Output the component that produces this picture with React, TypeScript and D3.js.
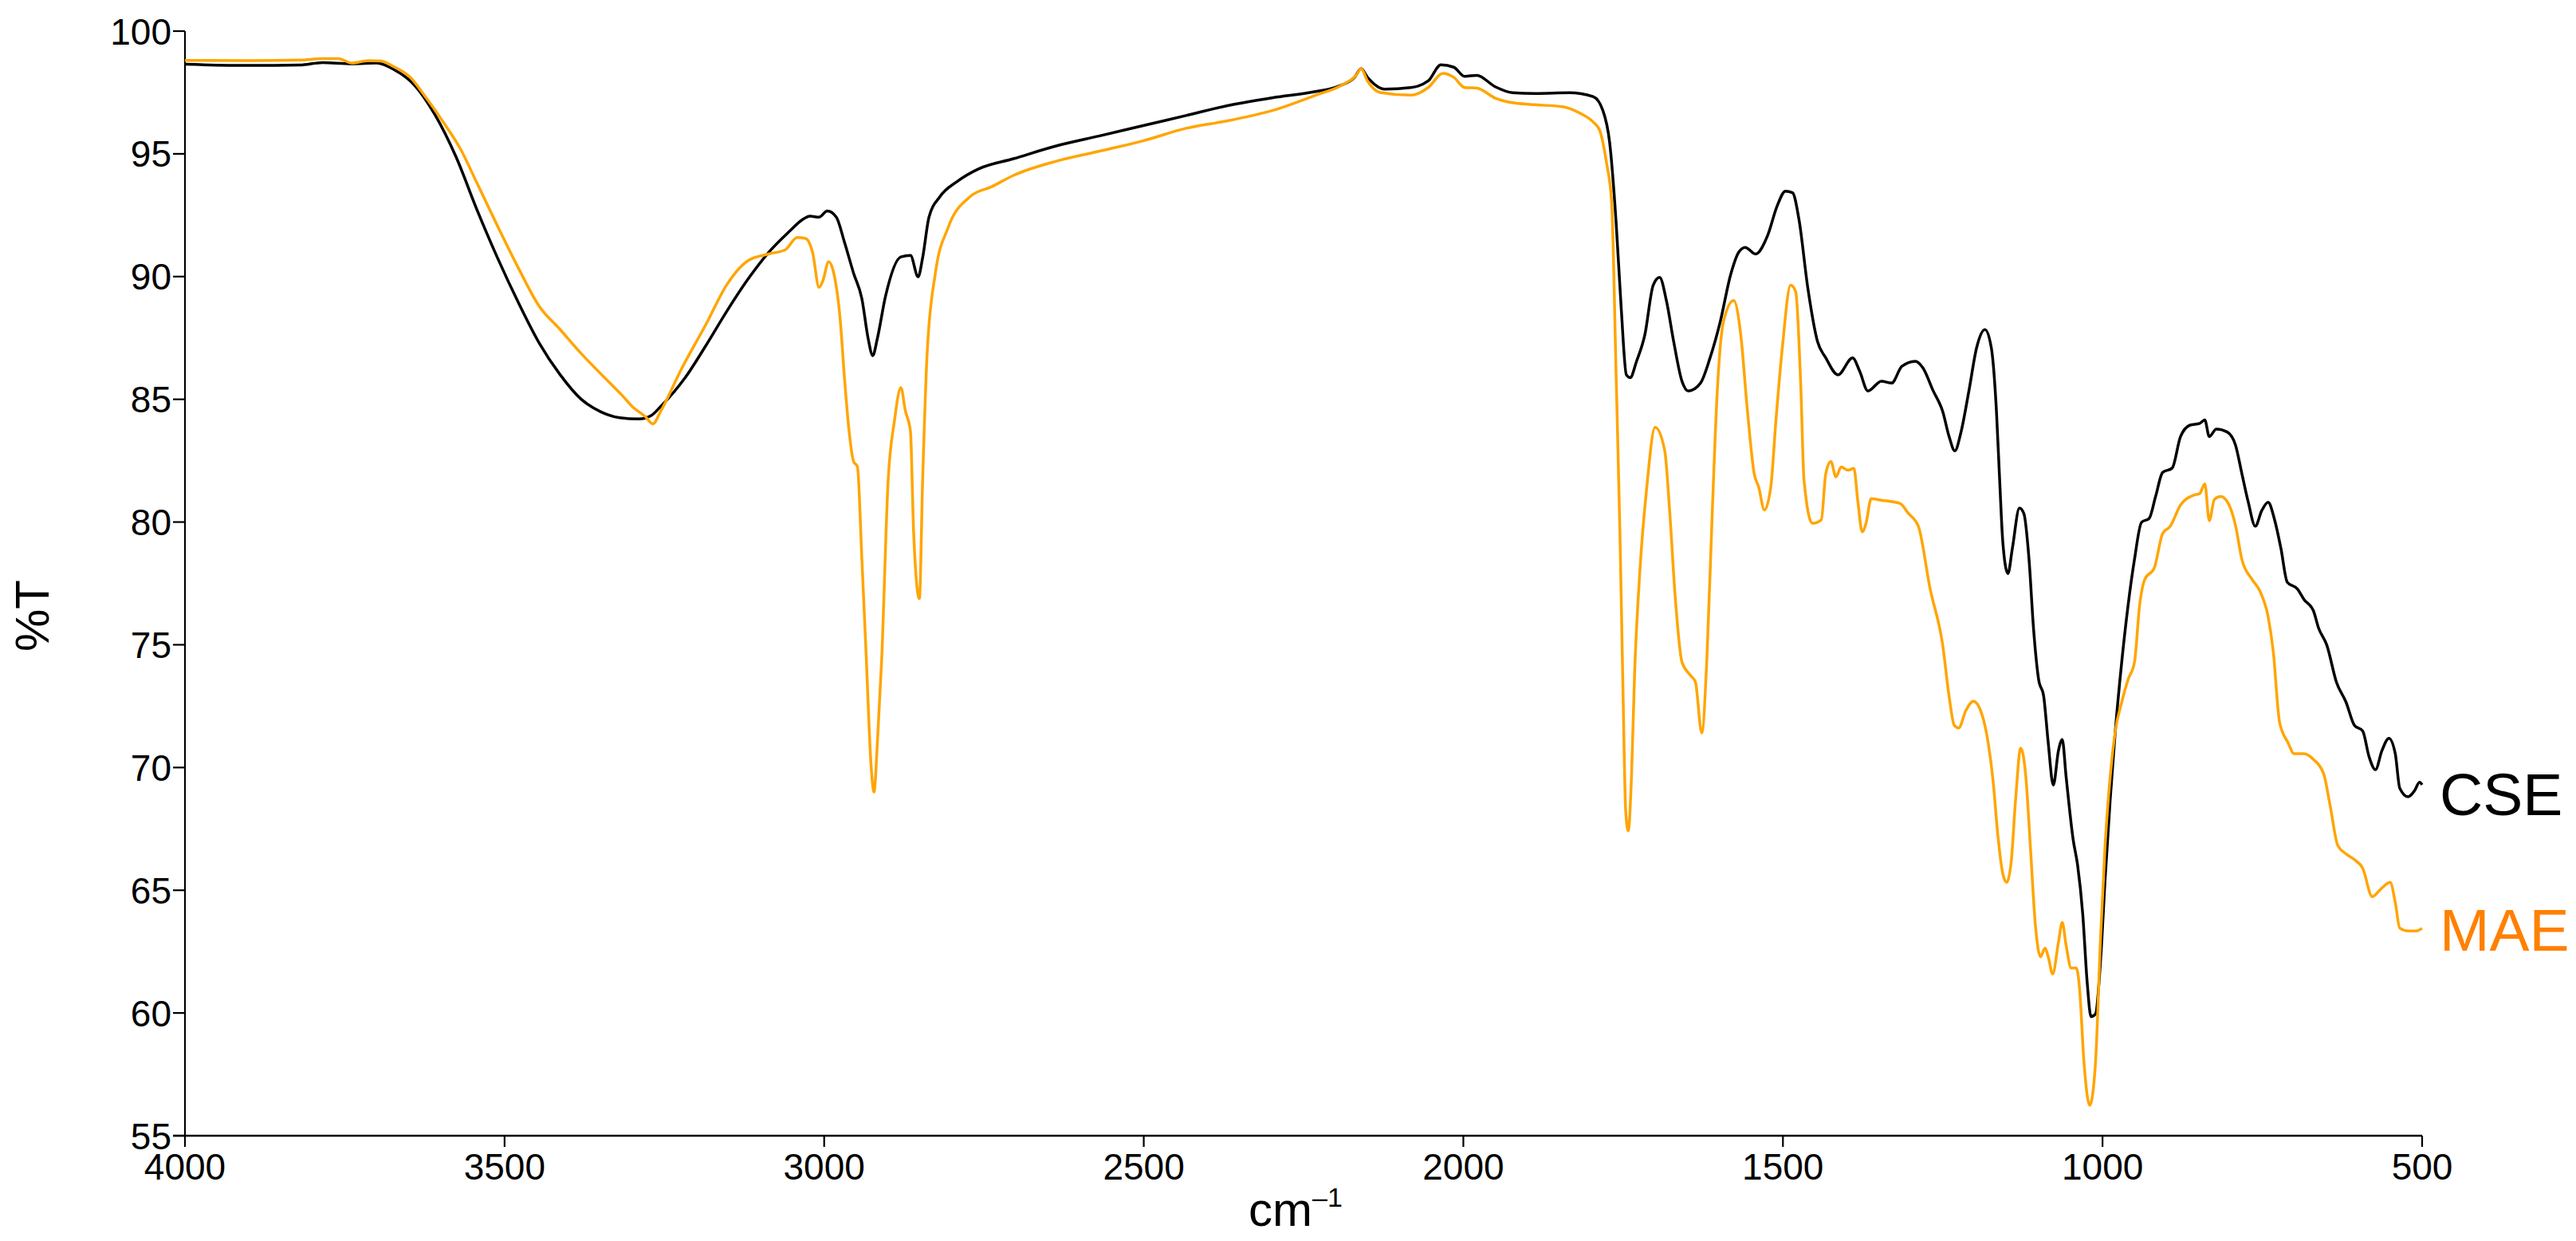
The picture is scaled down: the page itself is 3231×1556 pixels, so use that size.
import React from "react";
import * as d3 from "d3";

const xTicks = [4000, 3500, 3000, 2500, 2000, 1500, 1000, 500];
const yTicks = [55, 60, 65, 70, 75, 80, 85, 90, 95, 100];

const cseWn = [4000,3900,3820,3785,3739,3700,3674,3641,3609,3576,3543,3511,3478,3446,3413,3380,3350,3320,3290,3270,3256,3217,3185,3152,3119,3087,3054,3035,3022,3008,2995,2981,2968,2954,2941,2931,2924,2917,2904,2880,2865,2853,2846,2836,2819,2792,2758,2704,2637,2569,2501,2434,2366,2298,2231,2197,2170,2160,2150,2123,2082,2055,2035,2015,1998,1979,1950,1923,1887,1834,1797,1782,1771,1761,1753,1745,1739,1729,1716,1703,1693,1682,1671,1658,1648,1629,1614,1598,1582,1569,1559,1543,1524,1509,1496,1485,1475,1461,1446,1433,1414,1391,1380,1367,1346,1330,1314,1293,1281,1265,1250,1240,1231,1222,1209,1197,1184,1174,1166,1161,1156,1148,1141,1130,1123,1115,1108,1100,1092,1085,1077,1069,1063,1057,1046,1039,1031,1024,1018,1011,1003,996,988,980,970,960,950,939,927,917,906,891,878,863,848,840,833,822,805,792,782,772,761,751,741,731,721,711,695,685,670,662,649,634,619,606,593,583,573,563,552,542,535,522,512,504,500];
const cseT = [98.65,98.6,98.62,98.72,98.67,98.7,98.45,97.8,96.6,94.88,92.71,90.76,88.92,87.3,86.0,85.0,84.5,84.25,84.2,84.35,84.7,85.9,87.19,88.6,89.9,90.98,91.85,92.3,92.46,92.42,92.67,92.42,91.38,90.14,89.1,87.45,86.78,87.45,89.2,90.8,90.86,89.99,90.76,92.42,93.25,93.87,94.39,94.8,95.32,95.73,96.15,96.56,96.98,97.29,97.54,97.74,98.12,98.47,98.12,97.64,97.7,97.97,98.63,98.53,98.16,98.2,97.73,97.49,97.46,97.49,97.33,96.79,95.44,92.21,88.71,86.0,85.88,86.55,87.63,89.65,89.97,88.98,87.36,85.74,85.34,85.66,86.69,88.17,90.06,91.0,91.19,90.92,91.67,92.88,93.48,93.42,92.34,89.52,87.36,86.69,86.0,86.69,86.15,85.34,85.74,85.66,86.34,86.55,86.28,85.35,84.5,83.48,82.9,83.6,85.35,87.1,87.84,87.1,84.53,81.74,79.18,77.9,78.94,80.57,80.34,78.48,75.68,73.59,72.89,71.02,69.28,70.68,71.14,69.63,67.07,66.02,64.04,61.24,59.85,59.96,62.17,65.43,68.7,71.49,74.29,76.61,78.48,79.99,80.15,81.04,82.02,82.2,83.48,83.95,84.02,84.16,83.48,83.79,83.67,83.14,81.97,80.81,79.83,80.46,80.81,80.11,78.94,77.55,77.27,76.85,76.38,75.68,74.98,73.47,72.66,71.72,71.49,70.44,69.91,70.68,71.19,70.56,69.16,68.81,69.05,69.4,69.3];

const maeWn = [4000,3900,3820,3785,3760,3739,3713,3693,3674,3648,3622,3596,3569,3543,3511,3478,3446,3413,3380,3348,3315,3300,3280,3268,3256,3224,3185,3152,3119,3087,3061,3042,3029,3018,3008,3002,2993,2985,2975,2968,2961,2954,2948,2941,2934,2927,2922,2917,2910,2900,2890,2880,2873,2865,2860,2851,2846,2839,2826,2806,2772,2738,2704,2637,2569,2501,2434,2366,2298,2231,2190,2167,2160,2150,2130,2082,2055,2032,2015,1998,1979,1950,1929,1887,1845,1818,1797,1787,1776,1768,1761,1755,1750,1746,1742,1737,1732,1724,1713,1700,1685,1677,1669,1658,1645,1637,1627,1619,1611,1603,1593,1577,1566,1556,1545,1538,1529,1519,1511,1501,1488,1480,1472,1467,1454,1440,1433,1425,1417,1409,1398,1389,1383,1376,1370,1362,1346,1317,1304,1288,1270,1250,1240,1232,1225,1214,1202,1189,1179,1171,1164,1156,1150,1143,1136,1128,1120,1113,1105,1097,1090,1085,1078,1069,1063,1057,1049,1041,1036,1029,1020,1011,1003,996,988,980,970,960,950,942,934,919,906,894,878,858,848,840,833,825,815,802,792,782,766,754,741,733,723,710,700,685,670,654,644,632,619,606,593,578,563,550,542,535,522,509,500];
const maeT = [98.81,98.8,98.82,98.88,98.88,98.7,98.8,98.78,98.56,98.13,97.26,96.3,95.2,93.8,92.06,90.33,88.8,87.84,86.86,86.0,85.13,84.7,84.3,84.0,84.5,86.2,88.05,89.68,90.65,90.92,91.09,91.59,91.55,90.97,89.56,89.83,90.6,90.14,88.27,85.8,83.7,82.47,82.26,78.5,74.4,70.25,69.0,70.87,74.4,81.64,84.13,85.48,84.54,83.7,79.57,76.88,81.64,86.82,90.14,92.0,93.25,93.66,94.12,94.7,95.11,95.53,96.04,96.36,96.77,97.39,97.8,98.22,98.47,97.97,97.5,97.39,97.7,98.28,98.12,97.7,97.68,97.27,97.11,97.0,96.92,96.66,96.3,95.98,94.63,93.02,86.0,79.55,72.81,68.23,67.42,69.58,73.89,77.93,81.43,83.86,82.92,80.36,77.12,74.3,73.76,73.49,71.41,74.43,80.09,85.2,88.17,89.03,87.63,84.67,81.97,81.43,80.49,81.43,84.13,87.09,89.65,89.38,85.47,81.7,79.95,80.09,81.97,82.46,81.84,82.24,82.11,82.19,80.89,79.6,79.95,80.95,80.89,80.76,80.36,79.82,77.31,74.98,72.89,71.72,71.61,72.31,72.7,72.19,71.02,69.39,67.3,65.67,65.32,66.13,68.7,70.79,69.63,66.83,63.57,62.29,62.64,62.29,61.59,62.87,63.69,62.76,61.83,61.83,61.01,57.98,56.24,57.98,63.11,66.83,69.63,71.49,72.66,73.59,74.29,76.61,77.66,78.13,79.53,79.83,80.69,81.09,81.16,81.55,80.06,80.92,81.04,80.69,79.87,78.48,77.66,77.2,76.15,74.75,71.84,71.02,70.56,70.56,70.33,69.74,68.46,66.83,66.48,66.25,65.9,64.74,65.09,65.32,64.5,63.46,63.34,63.34,63.45];

const W = 3231;
const H = 1556;
const X0 = 232, X1 = 3038, Y0 = 39, Y1 = 1424;
const FONT = "'Liberation Sans', Arial, sans-serif";

export default function App() {
  const x = d3.scaleLinear().domain([4000, 500]).range([X0, X1]);
  const y = d3.scaleLinear().domain([100, 55]).range([Y0, Y1]);
  const line = d3
    .line<[number, number]>()
    .x((d) => x(d[0]))
    .y((d) => y(d[1]))
    .curve(d3.curveMonotoneX);
  const cse = cseWn.map((w, i) => [w, cseT[i]] as [number, number]);
  const mae = maeWn.map((w, i) => [w, maeT[i]] as [number, number]);

  return (
    <svg
      width={W}
      height={H}
      style={{ position: "absolute", left: 0, top: 0, background: "#fff" }}
      fontFamily={FONT}
    >
      <rect x={0} y={0} width={W} height={H} fill="#fff" />
      <line x1={X0} x2={X0} y1={Y0} y2={Y1} stroke="#000" strokeWidth={2.2} />
      <line x1={X0 - 15} x2={X1} y1={Y1} y2={Y1} stroke="#000" strokeWidth={2.5} />
      {yTicks.map((t) => (
        <g key={"y" + t}>
          <line x1={X0 - 15} x2={X0} y1={y(t)} y2={y(t)} stroke="#000" strokeWidth={2.2} />
          <text x={X0 - 17} y={y(t)} dy="0.36em" textAnchor="end" fontSize={46} fill="#000">
            {t}
          </text>
        </g>
      ))}
      {xTicks.map((t) => (
        <g key={"x" + t}>
          <line x1={x(t)} x2={x(t)} y1={Y1} y2={Y1 + 14} stroke="#000" strokeWidth={2.2} />
          <text x={x(t)} y={1479} textAnchor="middle" fontSize={46} fill="#000">
            {t}
          </text>
        </g>
      ))}
      <text
        transform={`translate(61,772) rotate(-90)`}
        textAnchor="middle"
        fontSize={60}
        fill="#000"
      >
        %T
      </text>
      <text x={1566} y={1537} fontSize={60} fill="#000">
        cm
        <tspan fontSize={34} dy={-24}>–1</tspan>
      </text>
      <path d={line(cse) || ""} fill="none" stroke="#000" strokeWidth={3.5} strokeLinejoin="round" />
      <path d={line(mae) || ""} fill="none" stroke="#FFA500" strokeWidth={3.5} strokeLinejoin="round" />
      <text x={3060} y={1022} fontSize={75} fill="#000">
        CSE
      </text>
      <text x={3060} y={1192} fontSize={75} fill="#FF8000">
        MAE
      </text>
    </svg>
  );
}
